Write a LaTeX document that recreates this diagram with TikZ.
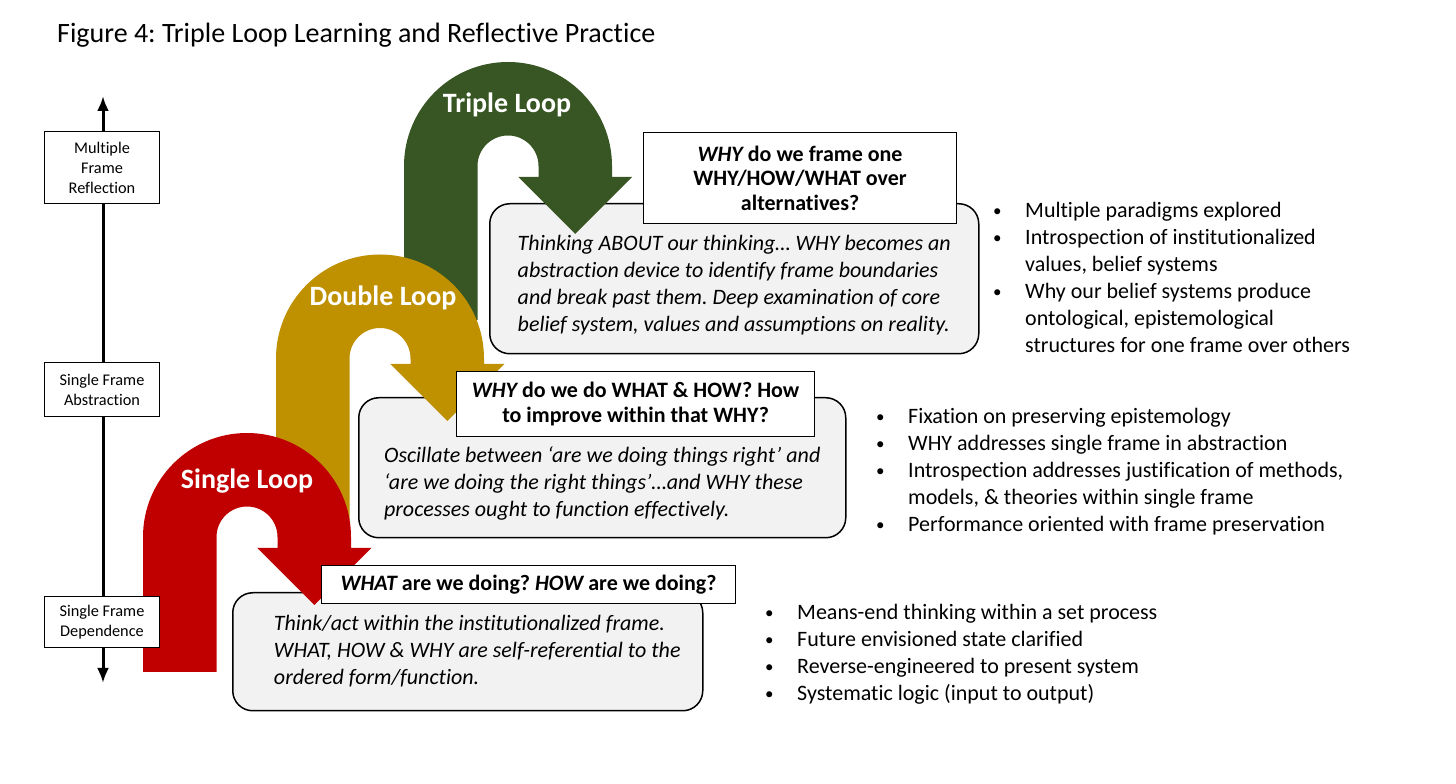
\documentclass[tikz,border=0pt]{standalone}
\usepackage{fontspec}
\setmainfont{Carlito}[Ligatures=NoCommon]
\usetikzlibrary{arrows.meta}
\definecolor{loopred}{HTML}{C00000}
\definecolor{loopgold}{HTML}{BF9000}
\definecolor{loopgreen}{HTML}{375623}
\definecolor{bodygray}{HTML}{F2F2F2}
% #1 centre x, #2 centre y, #3 bottom of left leg, #4 arrow base y, #5 colour
\newcommand\loopshape[5]{%
  \fill[#5] ({#1-104},#3) -- ({#1-104},#2) arc[start angle=180,end angle=0,radius=104]
    -- ({#1+104},#4) -- ({#1+124.25},#4) -- ({#1+67.25},{#4-57}) -- ({#1+10.25},#4)
    -- ({#1+30.5},#4) -- ({#1+30.5},#2) arc[start angle=0,end angle=180,radius=30.5]
    -- ({#1-30.5},#3) -- cycle;}
\newcommand\bul{\makebox[33pt][l]{\hspace*{1pt}\raisebox{1.5pt}{\fontsize{17}{17}\selectfont\textbullet}}}
\newcommand\nobul{\hspace*{33pt}}
\frenchspacing
\begin{document}
\begin{tikzpicture}[x=1pt,y=1pt,
  bodybox/.style={draw, line width=1.5pt, fill=bodygray, rounded corners=20pt, inner sep=0pt,
    anchor=north west, font=\fontsize{22}{27}\selectfont\itshape},
  headbox/.style={draw, line width=1.2pt, fill=white, inner sep=0pt, anchor=north west,
    align=center, font=\fontsize{22}{24.5}\selectfont\bfseries},
  axisbox/.style={draw, line width=1pt, fill=white, inner sep=0pt, anchor=north west,
    minimum width=115pt, align=center, font=\fontsize{16.3}{20}\selectfont},
  looplabel/.style={text=white, inner sep=0pt, font=\fontsize{28}{33}\selectfont\bfseries},
  bulletlist/.style={anchor=base west, inner sep=0pt, font=\fontsize{22}{27}\selectfont},
  heading/.style={anchor=base west, inner sep=0pt, font=\fontsize{28}{33}\selectfont},
  axisline/.style={line width=3pt, {Latex[length=15pt,width=12pt]}-{Latex[length=15pt,width=12pt]}}
]
\useasboundingbox (0,0) rectangle (1456,784);

% vertical axis
\coordinate (axtop) at (103,688);
\coordinate (axbot) at (103,101);
\draw[axisline] (axtop) -- (axbot);

% description boxes
\node[bodybox, minimum width=489pt, minimum height=150pt] (tbody) at (489,581)
  {\begin{tabular}{@{}l@{}}\rule{0pt}{31.9pt}Thinking ABOUT our thinking… WHY becomes an\\
   abstraction device to identify frame boundaries\\
   and break past them. Deep examination of core\\
   belief system, values and assumptions on reality.\end{tabular}};
\node[bodybox, minimum width=487pt, minimum height=140pt] (dbody) at (358,387)
  {\begin{tabular}{@{}l@{}}\rule{0pt}{52pt}Oscillate between ‘are we doing things right’ and\\
   ‘are we doing the right things’…and WHY these\\
   processes ought to function effectively.\end{tabular}};
\node[bodybox, minimum width=470pt, minimum height=118pt] (sbody) at (232,192)
  {\hspace*{19pt}\begin{tabular}{@{}l@{}}Think/act within the institutionalized frame.\\
   WHAT, HOW \& WHY are self-referential to the\\
   ordered form/function.\end{tabular}};

% loops
\loopshape{508}{618}{464}{607}{loopgreen}
\loopshape{380}{425.5}{264}{420}{loopgold}
\loopshape{247}{247}{112}{236}{loopred}

% question boxes
\node[headbox, minimum width=313pt, minimum height=91pt] (thead) at (643,652)
  {{\itshape WHY} do we frame one\\ WHY/HOW/WHAT over\\ alternatives?};
\node[headbox, minimum width=358pt, minimum height=65pt] (dhead) at (456,413)
  {{\itshape WHY} do we do WHAT \& HOW? How\\ to improve within that WHY?};
\node[headbox, minimum width=414pt, minimum height=38pt] (shead) at (321,219)
  {{\itshape WHAT} are we doing? {\itshape HOW} are we doing?};

% axis labels
\node[axisbox, minimum height=72pt] (ax1) at (44,653) {Multiple\\ Frame\\ Reflection};
\node[axisbox, minimum height=54pt] (ax2) at (44,422) {Single Frame\\ Abstraction};
\node[axisbox, minimum height=51pt] (ax3) at (44,188) {Single Frame\\ Dependence};

% loop labels
\node[looplabel] (tlabel) at (507,679) {Triple Loop};
\node[looplabel] (dlabel) at (383,486) {Double Loop};
\node[looplabel] (slabel) at (247,303) {Single Loop};

% bullet lists
\node[bulletlist] (tlist) at (992,566) {\begin{tabular}[t]{@{}l@{}}
  \bul Multiple paradigms explored\\
  \bul Introspection of institutionalized\\
  \nobul values, belief systems\\
  \bul Why our belief systems produce\\
  \nobul ontological, epistemological\\
  \nobul structures for one frame over others\end{tabular}};
\node[bulletlist] (dlist) at (875,360) {\begin{tabular}[t]{@{}l@{}}
  \bul Fixation on preserving epistemology\\
  \bul WHY addresses single frame in abstraction\\
  \bul Introspection addresses justification of methods,\\
  \nobul models, \& theories within single frame\\
  \bul Performance oriented with frame preservation\end{tabular}};
\node[bulletlist] (slist) at (764,164) {\begin{tabular}[t]{@{}l@{}}
  \bul Means-end thinking within a set process\\
  \bul Future envisioned state clarified\\
  \bul Reverse-engineered to present system\\
  \bul Systematic logic (input to output)\end{tabular}};

% heading
\node[heading] (title) at (57,741) {Figure 4: Triple Loop Learning and Reflective Practice};
\end{tikzpicture}
\end{document}
